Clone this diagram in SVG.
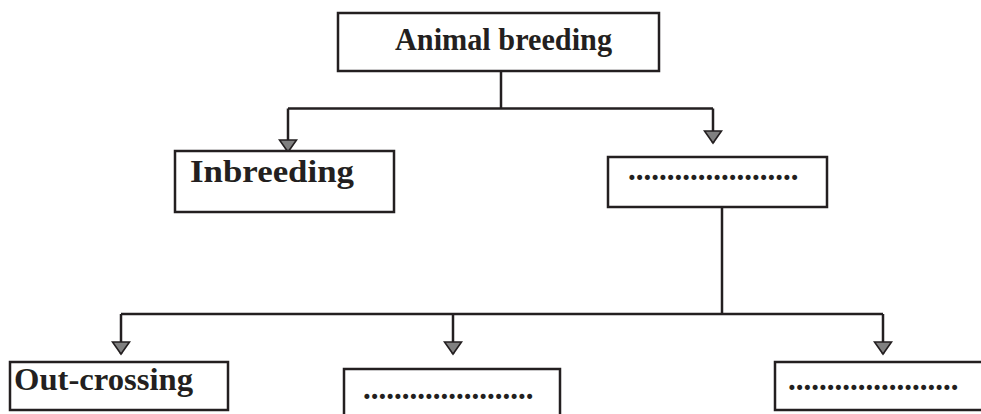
<svg xmlns="http://www.w3.org/2000/svg" width="981" height="414" viewBox="0 0 981 414">
  <style>
    .box { fill: #ffffff; stroke: #231f20; stroke-width: 2.5; }
    .lbl { font-family: "Liberation Serif", "Times New Roman", serif; font-weight: bold; font-size: 31px; fill: #231f20; }
    .wire { fill: none; stroke: #231f20; stroke-width: 2.5; }
  </style>
  <defs>
    <marker id="tri" viewBox="-2 -10 16 20" refX="12" refY="0" markerWidth="16" markerHeight="20" markerUnits="userSpaceOnUse" orient="auto">
      <path d="M0,-8.5 L12,0 L0,8.5 Z" fill="#808080" stroke="#231f20" stroke-width="1.6" stroke-linejoin="miter"/>
    </marker>
  </defs>

  <!-- connectors -->
  <g id="connectors">
    <path class="wire" d="M501,71 V108.5"/>
    <path class="wire" d="M288,108.5 H713"/>
    <path class="wire" d="M288,108.5 V152" marker-end="url(#tri)"/>
    <path class="wire" d="M713,108.5 V143" marker-end="url(#tri)"/>
    <path class="wire" d="M722,207 V314"/>
    <path class="wire" d="M121,314 H883"/>
    <path class="wire" d="M121,314 V354" marker-end="url(#tri)"/>
    <path class="wire" d="M453,314 V354" marker-end="url(#tri)"/>
    <path class="wire" d="M883,314 V354" marker-end="url(#tri)"/>
  </g>

  <!-- nodes -->
  <g id="animal-breeding">
    <rect class="box" x="338" y="13" width="321" height="58"/>
    <text class="lbl" x="395" y="50" font-size="32" textLength="217" lengthAdjust="spacingAndGlyphs">Animal breeding</text>
  </g>

  <g id="inbreeding">
    <rect class="box" x="175" y="151" width="219" height="61"/>
    <text class="lbl" x="190" y="182" textLength="164" lengthAdjust="spacingAndGlyphs">Inbreeding</text>
  </g>

  <g id="blank-1">
    <rect class="box" x="608" y="157" width="219" height="50"/>
    <text class="lbl" x="628" y="180">......................</text>
  </g>

  <g id="out-crossing">
    <rect class="box" x="10" y="362" width="218" height="48"/>
    <text class="lbl" x="14" y="390" textLength="179" lengthAdjust="spacingAndGlyphs">Out-crossing</text>
  </g>

  <g id="blank-2">
    <rect class="box" x="344" y="369" width="216" height="60"/>
    <text class="lbl" x="363" y="399">......................</text>
  </g>

  <g id="blank-3">
    <rect class="box" x="775" y="362" width="230" height="48"/>
    <text class="lbl" x="788" y="390">......................</text>
  </g>
</svg>
